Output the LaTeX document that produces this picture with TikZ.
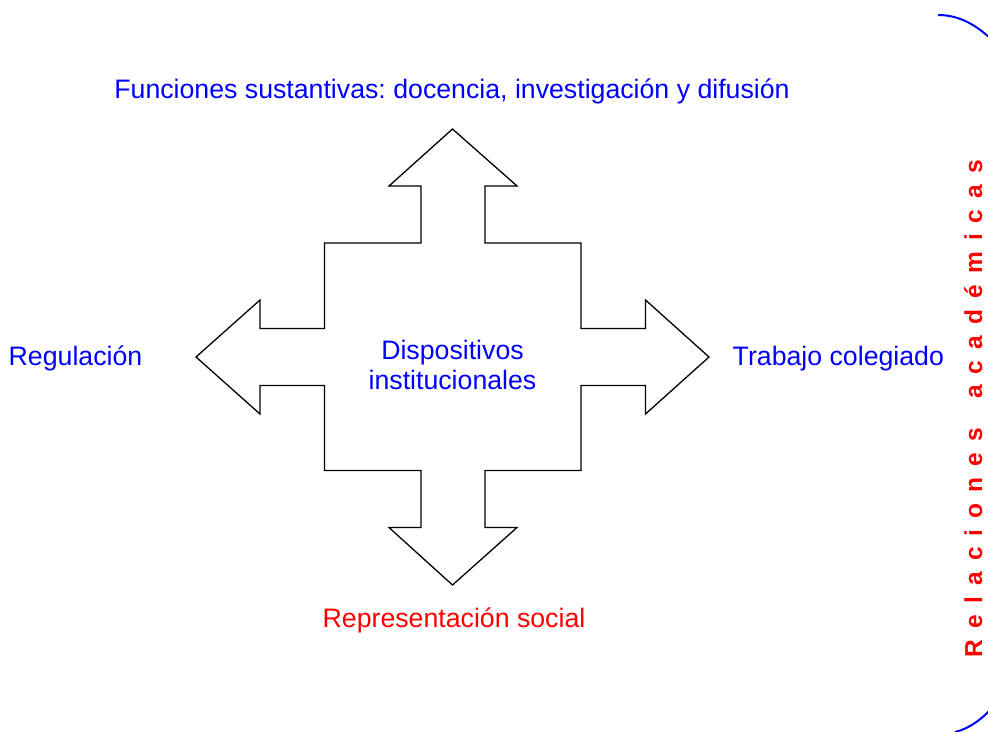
\documentclass[tikz,border=0pt]{standalone}
\usepackage{fontspec}
\setmainfont{Liberation Sans}
\newfontfamily\boldsans{Liberation Sans Bold}
\newcommand\trk{\kern11.1pt}
\definecolor{lblue}{RGB}{0,0,255}
\definecolor{lred}{RGB}{255,0,0}
\frenchspacing
\begin{document}
\begin{tikzpicture}[x=1pt,y=-1pt,
  lbl/.style={inner sep=0pt,font=\fontsize{26.7}{30}\selectfont},
  outline/.style={draw=black,line width=1.3pt,line join=miter},
  bracket/.style={draw=lblue,line width=2pt}]
\useasboundingbox (0,0) rectangle (988,731);
\clip (0,0) rectangle (988,731);
% four-way arrow shape
\draw[outline] (452.5,129) -- (517,186) -- (485,186) -- (485,243) -- (581,243) -- (581,328.5)
  -- (645.5,328.5) -- (645.5,300) -- (709,357) -- (645.5,414) -- (645.5,385.5) -- (581,385.5)
  -- (581,470.5) -- (485,470.5) -- (485,527.5) -- (517,527.5) -- (452.5,585) -- (389,527.5)
  -- (421,527.5) -- (421,470.5) -- (324.5,470.5) -- (324.5,385.5) -- (260,385.5) -- (260,414)
  -- (196,357) -- (260,300) -- (260,328.5) -- (324.5,328.5) -- (324.5,243) -- (421,243)
  -- (421,186) -- (389,186) -- cycle;
% labels
\node[lbl,text=lblue,anchor=base] (fun) at (452,98.3) {Funciones sustantivas: docencia, investigación y difusión};
\node[lbl,text=lblue,anchor=base west] (reg) at (8.5,365) {Regulación};
\node[lbl,text=lblue,anchor=base west] (tra) at (732.5,365) {Trabajo colegiado};
\node[lbl,text=lblue,align=center,anchor=center] (dis) at (452.5,365.4) {Dispositivos\\institucionales};
\node[lbl,text=lred,anchor=base] (rep) at (454,627) {Representación social};
% vertical label
\node[inner sep=0pt,text=lred,rotate=90,anchor=base,font=\boldsans\fontsize{24.5}{29}\selectfont] (rel) at (982,408.5)
  {R\trk e\trk l\trk a\trk c\trk i\trk o\trk n\trk e\trk s\trk\ \trk a\trk c\trk a\trk d\trk é\trk m\trk i\trk c\trk a\trk s};
% bracket arcs
\draw[bracket] (938,15) .. controls (958,15) and (975,24) .. (991,39);
\draw[bracket] (955,732) .. controls (966,729.5) and (979,722) .. (991,709);
\end{tikzpicture}
\end{document}
